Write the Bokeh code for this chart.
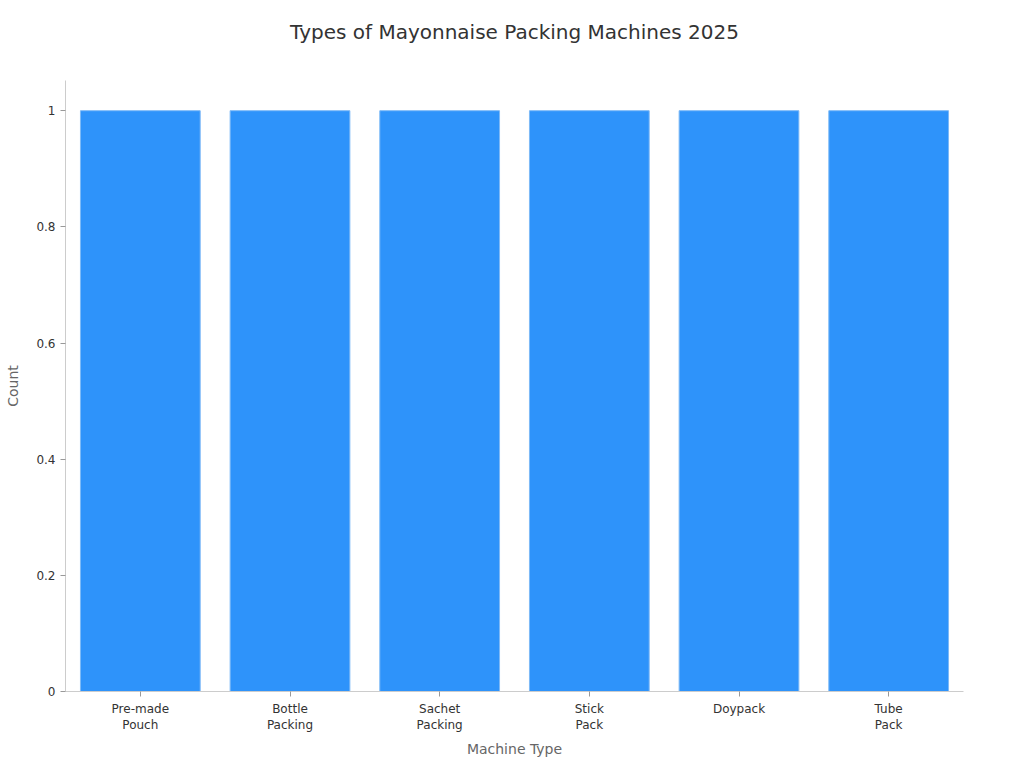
from bokeh.plotting import figure
from bokeh.models import ColumnDataSource, FixedTicker, CustomJSTickFormatter, Range1d, Title
from bokeh.embed import file_html
from bokeh.resources import INLINE

categories = ["Pre-made\nPouch", "Bottle\nPacking", "Sachet\nPacking", "Stick\nPack", "Doypack", "Tube\nPack"]
counts = [1, 1, 1, 1, 1, 1]
y_ticks = [0, 0.2, 0.4, 0.6, 0.8, 1]
title_text = "Types of Mayonnaise Packing Machines 2025"

FONT = "DejaVu Sans"

src = ColumnDataSource(data=dict(cat=categories, count=counts))

p = figure(
    frame_width=898, frame_height=611,
    x_range=categories, y_range=Range1d(0, 1.052),
    output_backend="svg", toolbar_location=None,
    min_border_left=65, min_border_right=40, min_border_top=80, min_border_bottom=10,
)
p.x_range.range_padding = 0.0

p.vbar(x="cat", top="count", width=0.8, source=src,
       fill_color="#2E93FA", line_color="#7DB9F7", line_width=1)

# spacer between frame and title, then the title itself (outermost)
p.add_layout(Title(text=" ", text_font_size="1px", standoff=20), "above")
p.add_layout(Title(text=title_text, text_font=FONT, text_font_size="20px",
                   text_font_style="normal", text_color="#333333",
                   align="center", standoff=28), "above")

for ax in (p.xaxis[0], p.yaxis[0]):
    ax.axis_line_color = "#cccccc"
    ax.major_tick_line_color = "#999999"
    ax.minor_tick_line_color = None
    ax.major_label_text_font = FONT
    ax.major_label_text_font_size = "12px"
    ax.major_label_text_color = "#333333"
    ax.axis_label_text_font = FONT
    ax.axis_label_text_font_size = "14px"
    ax.axis_label_text_font_style = "normal"
    ax.axis_label_text_color = "#666666"
    ax.major_tick_in = 0
    ax.major_tick_out = 5

p.xaxis.axis_label = "Machine Type"
p.yaxis.axis_label = "Count"
p.yaxis.ticker = FixedTicker(ticks=y_ticks)
p.yaxis.formatter = CustomJSTickFormatter(code="return String(tick);")
p.xaxis.axis_label_standoff = 6
p.yaxis.axis_label_standoff = 12

p.xgrid.grid_line_color = None
p.ygrid.grid_line_color = None
p.outline_line_color = None

open("out.html", "w").write(file_html(p, INLINE))
